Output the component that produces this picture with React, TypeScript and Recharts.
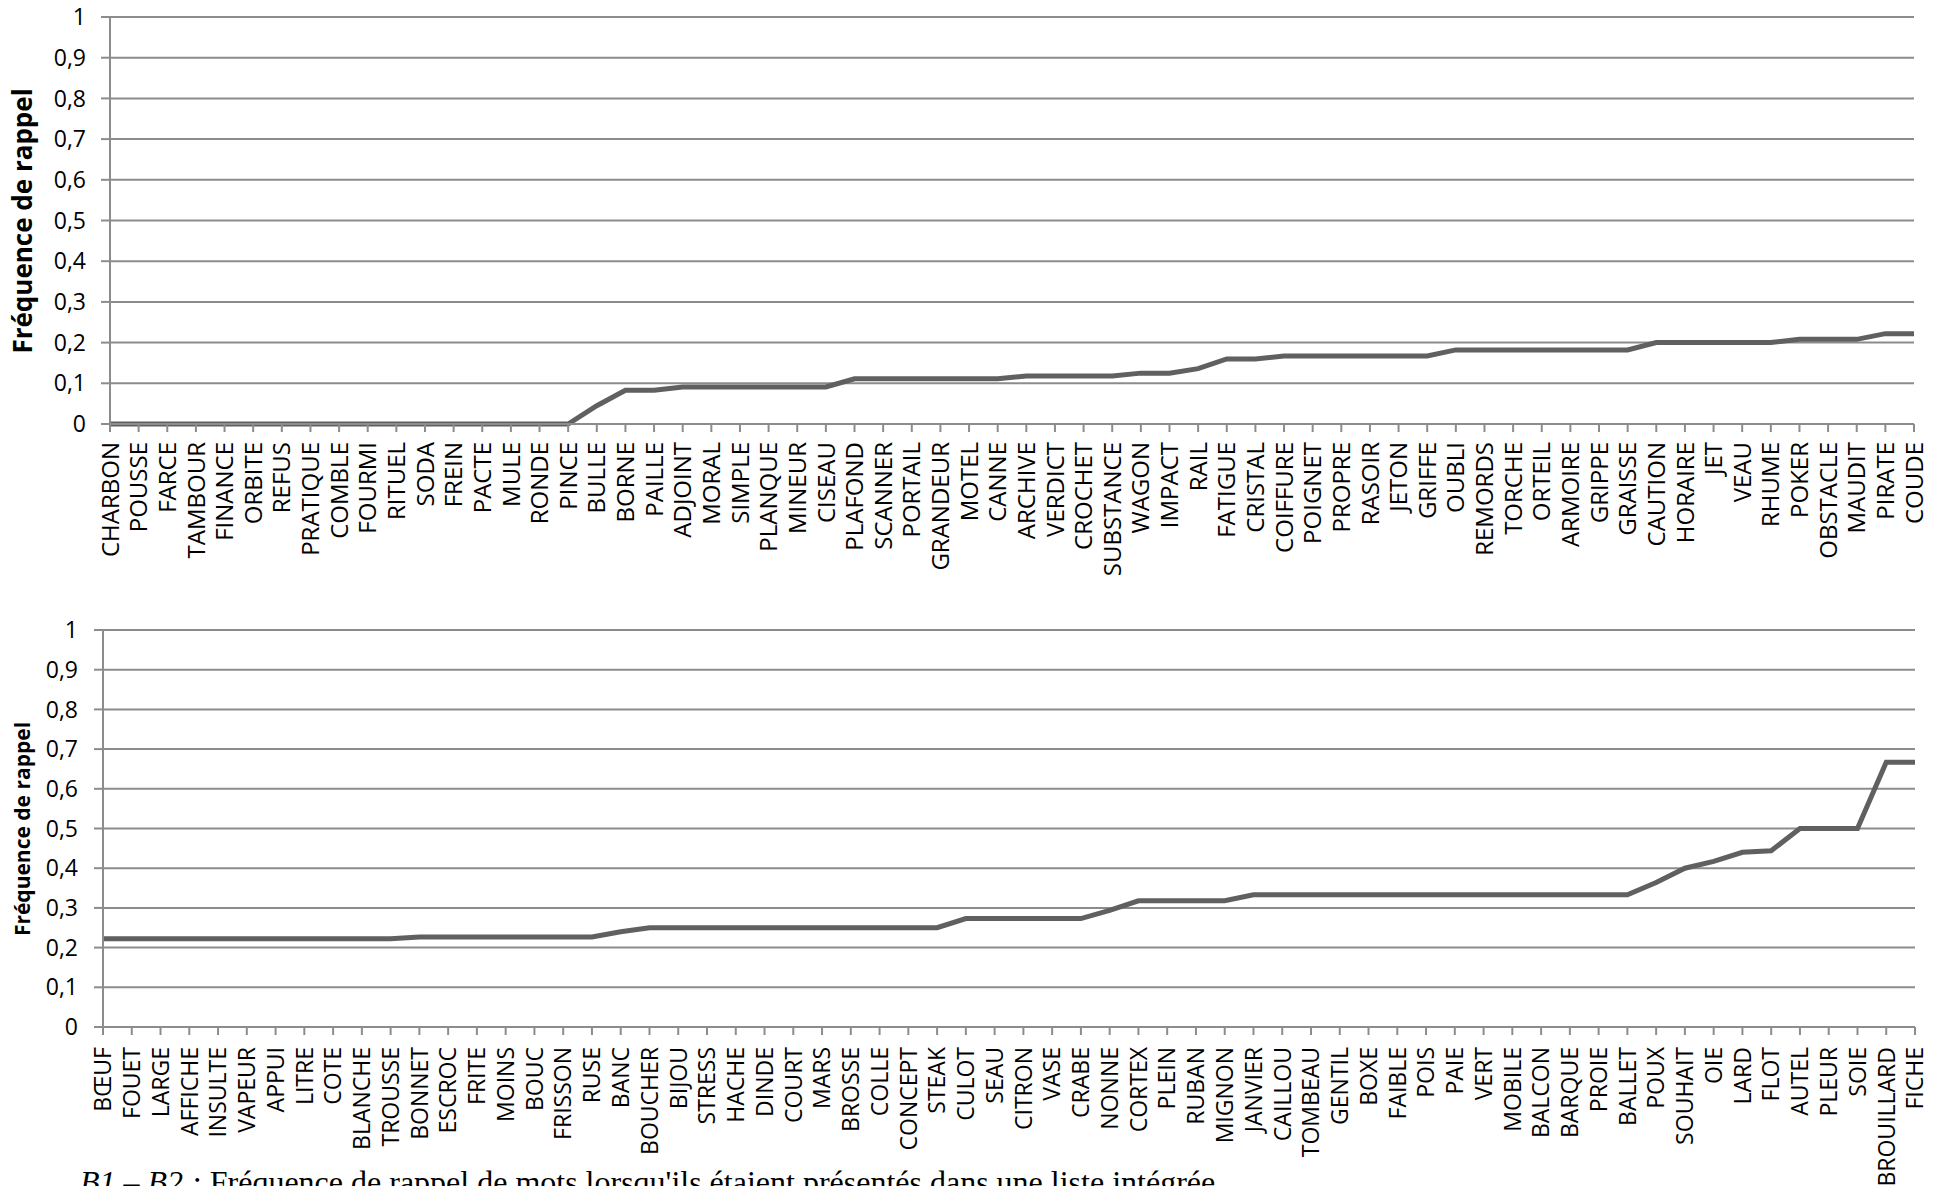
import { LineChart, Line, XAxis, YAxis, CartesianGrid } from 'recharts'

const topWords = [
  'CHARBON', 'POUSSE', 'FARCE', 'TAMBOUR', 'FINANCE', 'ORBITE', 'REFUS', 'PRATIQUE', 'COMBLE', 'FOURMI',
  'RITUEL', 'SODA', 'FREIN', 'PACTE', 'MULE', 'RONDE', 'PINCE', 'BULLE', 'BORNE', 'PAILLE',
  'ADJOINT', 'MORAL', 'SIMPLE', 'PLANQUE', 'MINEUR', 'CISEAU', 'PLAFOND', 'SCANNER', 'PORTAIL', 'GRANDEUR',
  'MOTEL', 'CANNE', 'ARCHIVE', 'VERDICT', 'CROCHET', 'SUBSTANCE', 'WAGON', 'IMPACT', 'RAIL', 'FATIGUE',
  'CRISTAL', 'COIFFURE', 'POIGNET', 'PROPRE', 'RASOIR', 'JETON', 'GRIFFE', 'OUBLI', 'REMORDS', 'TORCHE',
  'ORTEIL', 'ARMOIRE', 'GRIPPE', 'GRAISSE', 'CAUTION', 'HORAIRE', 'JET', 'VEAU', 'RHUME', 'POKER',
  'OBSTACLE', 'MAUDIT', 'PIRATE', 'COUDE',
]

const topValues = [
  0, 0, 0, 0, 0, 0, 0, 0, 0, 0,
  0, 0, 0, 0, 0, 0, 0, 0.045, 0.083, 0.083,
  0.091, 0.091, 0.091, 0.091, 0.091, 0.091, 0.111, 0.111, 0.111, 0.111,
  0.111, 0.111, 0.118, 0.118, 0.118, 0.118, 0.125, 0.125, 0.136, 0.16,
  0.16, 0.167, 0.167, 0.167, 0.167, 0.167, 0.167, 0.182, 0.182, 0.182,
  0.182, 0.182, 0.182, 0.182, 0.2, 0.2, 0.2, 0.2, 0.2, 0.208,
  0.208, 0.208, 0.222, 0.222,
]

const bottomWords = [
  'BŒUF', 'FOUET', 'LARGE', 'AFFICHE', 'INSULTE', 'VAPEUR', 'APPUI', 'LITRE', 'COTE', 'BLANCHE',
  'TROUSSE', 'BONNET', 'ESCROC', 'FRITE', 'MOINS', 'BOUC', 'FRISSON', 'RUSE', 'BANC', 'BOUCHER',
  'BIJOU', 'STRESS', 'HACHE', 'DINDE', 'COURT', 'MARS', 'BROSSE', 'COLLE', 'CONCEPT', 'STEAK',
  'CULOT', 'SEAU', 'CITRON', 'VASE', 'CRABE', 'NONNE', 'CORTEX', 'PLEIN', 'RUBAN', 'MIGNON',
  'JANVIER', 'CAILLOU', 'TOMBEAU', 'GENTIL', 'BOXE', 'FAIBLE', 'POIS', 'PAIE', 'VERT', 'MOBILE',
  'BALCON', 'BARQUE', 'PROIE', 'BALLET', 'POUX', 'SOUHAIT', 'OIE', 'LARD', 'FLOT', 'AUTEL',
  'PLEUR', 'SOIE', 'BROUILLARD', 'FICHE',
]

const bottomValues = [
  0.222, 0.222, 0.222, 0.222, 0.222, 0.222, 0.222, 0.222, 0.222, 0.222,
  0.222, 0.227, 0.227, 0.227, 0.227, 0.227, 0.227, 0.227, 0.24, 0.25,
  0.25, 0.25, 0.25, 0.25, 0.25, 0.25, 0.25, 0.25, 0.25, 0.25,
  0.273, 0.273, 0.273, 0.273, 0.273, 0.294, 0.318, 0.318, 0.318, 0.318,
  0.333, 0.333, 0.333, 0.333, 0.333, 0.333, 0.333, 0.333, 0.333, 0.333,
  0.333, 0.333, 0.333, 0.333, 0.364, 0.4, 0.417, 0.44, 0.444, 0.5,
  0.5, 0.5, 0.667, 0.667,
]

const yTicks = [0, 0.1, 0.2, 0.3, 0.4, 0.5, 0.6, 0.7, 0.8, 0.9, 1]

const yTitle = 'Fréquence de rappel'

const GRID = '#8c8c8c'
const LINE = '#606060'

const fmt = (v: number) => String(v).replace('.', ',')

function WordTick({ x, y, payload, fontSize }: any) {
  return (
    <g transform={`translate(${x},${y})`}>
      <text
        x={0}
        y={0}
        dy="0.36em"
        transform="rotate(-90)"
        textAnchor="end"
        fill="#000"
        fontSize={fontSize}
        fontFamily="'Open Sans', sans-serif"
      >
        {payload.value}
      </text>
    </g>
  )
}

interface PanelProps {
  words: string[]
  values: number[]
  top: number
  height: number
  marginTop: number
  marginRight: number
  yAxisWidth: number
  xAxisHeight: number
  yTickMargin: number
  yTickFont: number
  xTickMargin: number
  xTickFont: number
  titleSize: number
}

function Panel(p: PanelProps) {
  const data = p.words.map((w, i) => ({ name: w, value: p.values[i] }))
  const plotTop = p.top + p.marginTop
  const plotBottom = p.top + p.height - p.xAxisHeight

  return (
    <>
      <div style={{ position: 'absolute', left: 0, top: p.top, width: 1944, height: p.height }}>
        <LineChart
          width={1944}
          height={p.height}
          data={data}
          margin={{ top: p.marginTop, right: p.marginRight, left: 0, bottom: 0 }}
        >
          <CartesianGrid vertical={false} stroke={GRID} strokeWidth={2} />
          <XAxis
            dataKey="name"
            interval={0}
            height={p.xAxisHeight}
            axisLine={{ stroke: GRID, strokeWidth: 2 }}
            tickLine={{ stroke: GRID, strokeWidth: 2 }}
            tickSize={8}
            tickMargin={p.xTickMargin}
            tick={<WordTick fontSize={p.xTickFont} />}
          />
          <YAxis
            type="number"
            domain={[0, 1]}
            ticks={yTicks}
            width={p.yAxisWidth}
            axisLine={{ stroke: GRID, strokeWidth: 2 }}
            tickLine={{ stroke: GRID, strokeWidth: 2 }}
            tickSize={9}
            tickMargin={p.yTickMargin}
            tickFormatter={fmt}
            tick={{ fill: '#000', fontSize: p.yTickFont, fontFamily: "'Open Sans', sans-serif" }}
          />
          <Line
            type="linear"
            dataKey="value"
            stroke={LINE}
            strokeWidth={5}
            dot={false}
            isAnimationActive={false}
          />
        </LineChart>
      </div>
      <div
        style={{
          position: 'absolute',
          left: 22,
          top: (plotTop + plotBottom) / 2,
          transform: 'translate(-50%, -50%) rotate(-90deg)',
          whiteSpace: 'nowrap',
          fontFamily: "'Open Sans', sans-serif",
          fontWeight: 700,
          fontSize: p.titleSize,
          color: '#000',
        }}
      >
        {yTitle}
      </div>
    </>
  )
}

export default function App() {
  return (
    <div
      style={{
        position: 'fixed',
        left: 0,
        top: 0,
        width: 1944,
        height: 1186,
        overflow: 'hidden',
        background: '#fff',
      }}
    >
      <Panel
        words={topWords}
        values={topValues}
        top={0}
        height={600}
        marginTop={17}
        marginRight={30}
        yAxisWidth={110}
        xAxisHeight={176}
        yTickMargin={15}
        yTickFont={23}
        xTickMargin={10}
        xTickFont={24}
        titleSize={26}
      />
      <Panel
        words={bottomWords}
        values={bottomValues}
        top={600}
        height={586}
        marginTop={30}
        marginRight={29}
        yAxisWidth={103}
        xAxisHeight={159}
        yTickMargin={16}
        yTickFont={23}
        xTickMargin={12}
        xTickFont={23}
        titleSize={21}
      />
      <div
        style={{
          position: 'absolute',
          left: 80,
          top: 1164,
          fontFamily: "'Liberation Serif', serif",
          fontSize: 32,
          lineHeight: '36px',
          whiteSpace: 'nowrap',
          color: '#000',
        }}
      >
        <i>B1 – B2 :</i> Fréquence de rappel de mots lorsqu'ils étaient présentés dans une liste intégrée
      </div>
    </div>
  )
}
